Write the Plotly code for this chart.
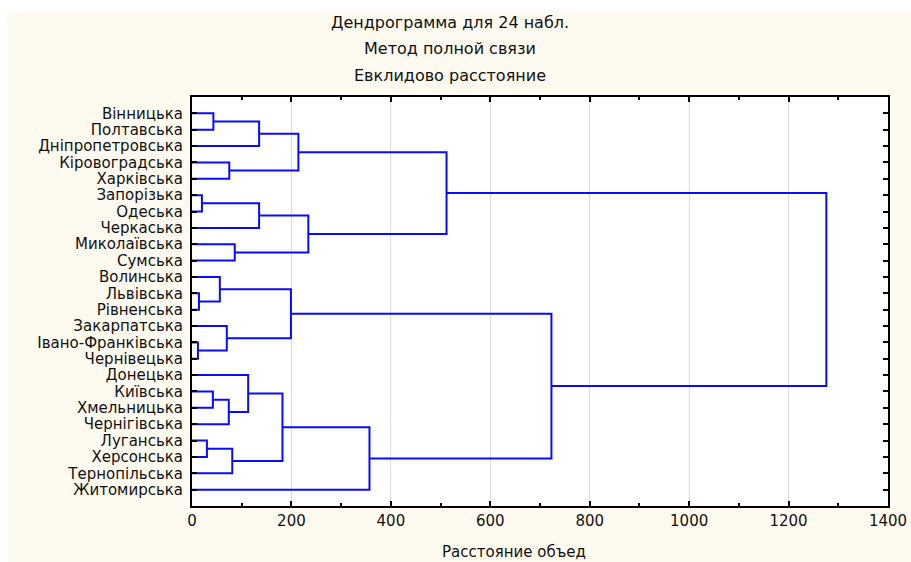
import plotly.graph_objects as go

labels = ["Вінницька", "Полтавська", "Дніпропетровська", "Кіровоградська", "Харківська",
          "Запорізька", "Одеська", "Черкаська", "Миколаївська", "Сумська",
          "Волинська", "Львівська", "Рівненська", "Закарпатська", "Івано-Франківська",
          "Чернівецька", "Донецька", "Київська", "Хмельницька", "Чернігівська",
          "Луганська", "Херсонська", "Тернопільська", "Житомирська"]

# linkage: cluster ids 0..23 are leaves, 24+ are merges in order
merge_a = [14, 11, 5, 20, 17, 0, 10, 13, 28, 3, 27, 8, 16, 29, 26, 36, 30, 37, 38, 39, 41, 40, 44]
merge_b = [15, 12, 6, 21, 18, 1, 25, 24, 19, 4, 22, 9, 32, 2, 7, 34, 31, 33, 35, 23, 42, 43, 45]
merge_height = [12, 14, 20, 30, 42, 43, 56, 70, 74, 75, 81, 86, 113, 135, 135, 182, 199, 214, 234, 357, 512, 723, 1276]

title_lines = ["Дендрограмма для 24 набл.", "Метод полной связи", "Евклидово расстояние"]
x_title = "Расстояние объед"

n = len(labels)
pos = {i: i + 1 for i in range(n)}
hgt = {i: 0 for i in range(n)}
xs, ys = [], []
for k, (a, b, h) in enumerate(zip(merge_a, merge_b, merge_height)):
    cid = n + k
    xs += [hgt[a], h, h, hgt[b], None]
    ys += [pos[a], pos[a], pos[b], pos[b], None]
    pos[cid] = (pos[a] + pos[b]) / 2
    hgt[cid] = h

fig = go.Figure()
fig.add_trace(go.Scatter(x=xs, y=ys, mode="lines", line=dict(color="#0A0AFF", width=2),
                         hoverinfo="skip", showlegend=False))

font_family = "DejaVu Sans, Liberation Sans, Arial, sans-serif"
W, H = 911, 562
ml, mr, mt, mb = 192, 23, 97, 56
ph = H - mt - mb
pw = W - ml - mr


def px_x(px):
    return (px - ml) / pw


def px_y(py):
    return (H - mb - py) / ph


fig.update_layout(
    width=W, height=H,
    margin=dict(l=ml, r=mr, t=mt, b=mb, autoexpand=False),
    paper_bgcolor="#FFFFFF",
    plot_bgcolor="#FFFFFF",
    font=dict(family=font_family, size=15, color="#111111"),
    showlegend=False,
)
# cream chart background (starts a few px in from the top-left), white plot area on top
fig.add_shape(type="rect", xref="paper", yref="paper", x0=px_x(7), x1=px_x(W + 5),
              y0=px_y(H + 5), y1=px_y(11), fillcolor="#FEFAF0", line=dict(width=0), layer="below")
fig.add_shape(type="rect", xref="paper", yref="paper", x0=0, x1=1, y0=0, y1=1,
              fillcolor="#FFFFFF", line=dict(width=0), layer="below")

fig.update_xaxes(
    range=[0, 1400], tick0=0, dtick=200, showgrid=True, gridcolor="#DCDCDC", gridwidth=1,
    zeroline=False, showline=True, linecolor="#000000", linewidth=2, mirror="ticks",
    ticks="inside", ticklen=5, tickwidth=2, tickcolor="#000000", automargin=False,
    minor=dict(ticks="inside", dtick=100, ticklen=3, tickwidth=2, tickcolor="#000000", showgrid=False),
    tickfont=dict(size=15),
)
fig.update_yaxes(
    range=[25, 0], tickmode="array", tickvals=list(range(1, n + 1)), ticktext=labels,
    showgrid=False, zeroline=False, showline=True, linecolor="#000000", linewidth=2,
    mirror="ticks", ticks="inside", ticklen=5, tickwidth=2, tickcolor="#000000",
    tickfont=dict(size=15), ticklabelstandoff=4, automargin=False,
)

title_y_px = [22, 49, 75]
for txt, ypx in zip(title_lines, title_y_px):
    fig.add_annotation(text=txt, xref="paper", yref="paper", x=px_x(450),
                       y=px_y(ypx), showarrow=False, xanchor="center",
                       yanchor="middle", font=dict(size=16))
fig.add_annotation(text=x_title, xref="paper", yref="paper", x=px_x(514),
                   y=px_y(552), showarrow=False, xanchor="center",
                   yanchor="middle", font=dict(size=15))

fig.write_html("out.html", config={"displayModeBar": False},
               post_script="document.body.style.margin='0';document.body.style.overflow='hidden';")
